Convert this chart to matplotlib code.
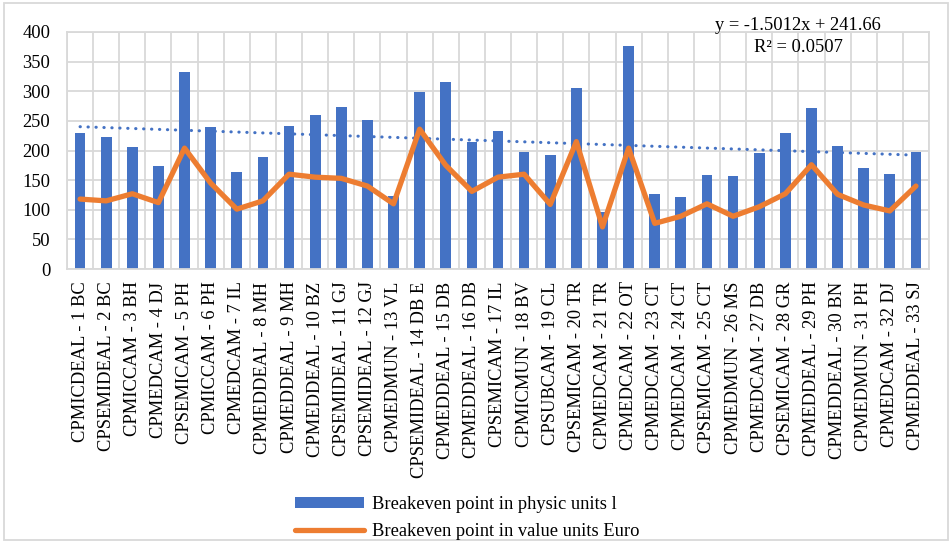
import numpy as np
import matplotlib
matplotlib.use("Agg")
import matplotlib.pyplot as plt
from matplotlib.patches import Rectangle

plt.rcParams['font.family'] = ['Liberation Serif', 'DejaVu Serif']

# --- data ---
categories = [
    "CPMICDEAL - 1 BC", "CPSEMIDEAL - 2 BC", "CPMICCAM - 3 BH", "CPMEDCAM - 4 DJ",
    "CPSEMICAM - 5 PH", "CPMICCAM - 6 PH", "CPMEDCAM - 7 IL", "CPMEDDEAL - 8 MH",
    "CPMEDDEAL - 9 MH", "CPMEDDEAL - 10 BZ", "CPSEMIDEAL - 11 GJ", "CPSEMIDEAL - 12 GJ",
    "CPMEDMUN - 13 VL", "CPSEMIDEAL - 14 DB E", "CPMEDDEAL - 15 DB", "CPMEDDEAL - 16 DB",
    "CPSEMICAM - 17 IL", "CPMICMUN - 18 BV", "CPSUBCAM - 19 CL", "CPSEMICAM - 20 TR",
    "CPMEDCAM - 21 TR", "CPMEDCAM - 22 OT", "CPMEDCAM - 23 CT", "CPMEDCAM - 24 CT",
    "CPSEMICAM - 25 CT", "CPMEDMUN - 26 MS", "CPMEDCAM - 27 DB", "CPSEMICAM - 28 GR",
    "CPMEDDEAL - 29 PH", "CPMEDDEAL - 30 BN", "CPMEDMUN - 31 PH", "CPMEDCAM - 32 DJ",
    "CPMEDDEAL - 33 SJ",
]
physic_units = [229, 222, 206, 173, 332, 239, 164, 189, 242, 260, 274, 251, 124,
                298, 315, 214, 233, 197, 192, 306, 97, 377, 127, 121, 159, 157,
                195, 229, 272, 208, 170, 160, 198]
value_units = [118, 115, 127, 112, 204, 145, 101, 115, 160, 155, 153, 140, 110,
               236, 175, 131, 155, 160, 109, 215, 71, 204, 77, 89, 110, 89,
               105, 127, 176, 126, 108, 98, 140]
trend_slope = -1.5012
trend_intercept = 241.66
trend_r2 = 0.0507

label_bar = "Breakeven point in physic units l"
label_line = "Breakeven point in value units Euro"

BLUE = "#4472C4"
ORANGE = "#ED7D31"
GRID = "#D9D9D9"
FS = 13.3

fig = plt.figure(figsize=(9.52, 5.43), dpi=100)
ax = fig.add_axes([67 / 952, 1 - 269 / 543, (929 - 67) / 952, (269 - 32) / 543])

x = np.arange(len(categories))
bars = ax.bar(x, physic_units, width=0.41, color=BLUE, zorder=2, label=label_bar)
line, = ax.plot(x, value_units, color=ORANGE, linewidth=3.8, solid_joinstyle='round',
                solid_capstyle='round', zorder=4, label=label_line)

# linear trendline of the bar series (Excel numbering 1..n)
xn = x + 1
ax.plot(x, trend_slope * xn + trend_intercept, color=BLUE, linewidth=2.2,
        linestyle=(0, (0.1, 2.5)), dash_capstyle='round', zorder=3)

ax.set_xlim(-0.5, len(categories) - 0.5)
ax.set_ylim(0, 400)
ax.set_yticks(np.arange(0, 401, 50))
ax.set_xticks(x)
ax.set_xticklabels(categories, rotation=90, fontsize=FS)
ax.set_xticks(np.arange(-0.5, len(categories), 1), minor=True)
ax.tick_params(axis='y', labelsize=FS, length=0, pad=12)
ax.tick_params(axis='x', which='major', length=0, pad=9)
ax.tick_params(axis='x', which='minor', length=0)
ax.grid(True, axis='y', color=GRID, linewidth=1.3, zorder=0)
ax.grid(True, axis='x', which='minor', color=GRID, linewidth=1.3, zorder=0)
ax.grid(False, axis='x', which='major')
ax.set_axisbelow(True)
for s in ax.spines.values():
    s.set_color(GRID)
    s.set_linewidth(1.3)

fig.text(798 / 952, 1 - 25 / 543, f"y = {trend_slope}x + {trend_intercept}",
         ha='center', va='center', fontsize=FS)
fig.text(798 / 952, 1 - 47 / 543, f"R² = {trend_r2}",
         ha='center', va='center', fontsize=FS)

fig.legend([bars, line], [label_bar, label_line],
           loc='upper left', bbox_to_anchor=(288 / 952, 1 - 489 / 543),
           frameon=False, fontsize=FS, handlelength=3.7, handleheight=0.55,
           handletextpad=0.45, labelspacing=0.5, borderaxespad=0)

fig.patches.append(Rectangle((4 / 952, 3 / 543), 944 / 952, 537 / 543,
                             transform=fig.transFigure, fill=False,
                             edgecolor=GRID, linewidth=1.3))

fig.savefig("out.png", dpi=100)
